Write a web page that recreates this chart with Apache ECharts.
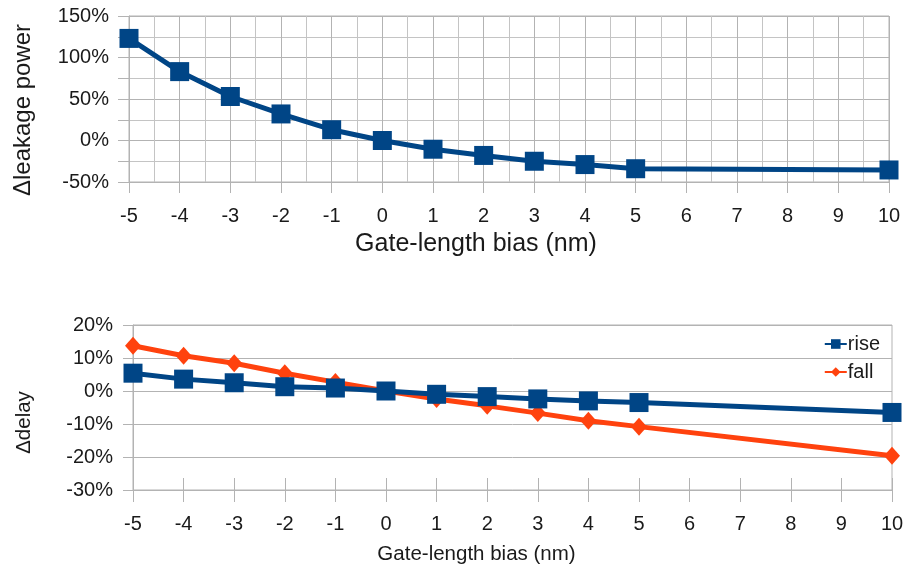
<!DOCTYPE html>
<html>
<head>
<meta charset="utf-8">
<script src="https://cdn.jsdelivr.net/npm/echarts@6/dist/echarts.min.js"></script>
<style>
  html, body { margin: 0; padding: 0; background: #fff; }
  #chart { width: 907px; height: 572px; }
</style>
</head>
<body>
<div id="chart"></div>
<script>
// gate-length bias (nm) where points were measured
const biasNm = [-5, -4, -3, -2, -1, 0, 1, 2, 3, 4, 5, 10]
// change in leakage power, %
const leakage = [123, 83, 53, 32, 13, 0, -10.5, -18, -25, -29, -34, -35.5]
// change in delay, %
const rise = [5.4, 3.6, 2.5, 1.3, 0.9, 0, -1, -1.7, -2.4, -3, -3.5, -6.5]
const fall = [13.7, 10.7, 8.4, 5.4, 2.7, 0, -2.4, -4.5, -6.7, -9, -10.8, -19.6]

const pairs = (ys) => biasNm.map((x, i) => [x, ys[i]])

const font = 'Liberation Sans'
const txt = '#1a1a1a'
const gridCol = '#b3b3b3'
const blue = '#004586'
const orange = '#ff420e'

const xBase = (gridIndex, nameSize, nameGap, shift) => ({
  type: 'value',
  gridIndex: gridIndex,
  min: -5,
  max: 10,
  interval: 1,
  name: 'Gate-length bias (nm)',
  nameLocation: 'middle',
  nameGap: nameGap,
  nameTextStyle: { fontFamily: font, fontSize: nameSize, color: txt, padding: [0, shift, 0, 0] },
  axisLine: { show: true, onZero: false, lineStyle: { color: gridCol } },
  axisTick: { show: true, length: 11, lineStyle: { color: gridCol } },
  axisLabel: { fontFamily: font, fontSize: 20, color: txt, margin: 24 }
})

const option = {
  backgroundColor: '#fff',
  animation: false,
  grid: [
    { left: 129, right: 18, top: 16, height: 166, show: true, borderColor: gridCol, borderWidth: 1 },
    { left: 133, right: 15, top: 325, height: 165, show: true, borderColor: gridCol, borderWidth: 1 }
  ],
  legend: {
    orient: 'vertical',
    right: 22,
    top: 329,
    itemWidth: 22,
    itemHeight: 12,
    itemGap: 8,
    data: ['rise', 'fall'],
    textStyle: { fontFamily: font, fontSize: 20, color: txt, padding: [0, 0, 0, -4] }
  },
  xAxis: [
    Object.assign(xBase(0, 25, 50, 66), {
      splitLine: { show: true, lineStyle: { color: gridCol } },
      minorTick: { show: false, splitNumber: 2 },
      minorSplitLine: { show: true, lineStyle: { color: '#c4c4c4' } }
    }),
    Object.assign(xBase(1, 20.5, 54, 72), {
      axisTick: { show: true, length: 12, lineStyle: { color: gridCol } },
      splitLine: { show: false }
    }),
    {
      // upper half of the crossing tick marks on the lower chart
      type: 'value',
      gridIndex: 1,
      min: -5,
      max: 10,
      interval: 1,
      position: 'top',
      offset: -165,
      axisLine: { show: false, onZero: false },
      axisTick: { show: true, length: 12, lineStyle: { color: gridCol } },
      axisLabel: { show: false },
      splitLine: { show: false }
    }
  ],
  yAxis: [
    {
      type: 'value',
      gridIndex: 0,
      min: -50,
      max: 150,
      interval: 50,
      name: 'Δleakage power',
      nameLocation: 'middle',
      nameGap: 94,
      nameTextStyle: { fontFamily: font, fontSize: 24, color: txt, padding: [0, 22, 0, 0] },
      axisLine: { show: true, onZero: false, lineStyle: { color: gridCol } },
      axisTick: { show: true, length: 11, lineStyle: { color: gridCol } },
      minorTick: { show: true, splitNumber: 2, length: 11, lineStyle: { color: gridCol } },
      axisLabel: { fontFamily: font, fontSize: 20, color: txt, margin: 20, formatter: '{value}%' },
      splitLine: { show: true, lineStyle: { color: gridCol } },
      minorSplitLine: { show: true, lineStyle: { color: '#c4c4c4' } }
    },
    {
      type: 'value',
      gridIndex: 1,
      min: -30,
      max: 20,
      interval: 10,
      name: 'Δdelay',
      nameLocation: 'middle',
      nameGap: 98,
      nameTextStyle: { fontFamily: font, fontSize: 20.5, color: txt, padding: [0, 30, 0, 0] },
      axisLine: { show: true, onZero: false, lineStyle: { color: gridCol } },
      axisTick: { show: true, length: 10, lineStyle: { color: gridCol } },
      axisLabel: { fontFamily: font, fontSize: 20, color: txt, margin: 20, formatter: '{value}%' },
      splitLine: { show: true, lineStyle: { color: gridCol } }
    }
  ],
  series: [
    {
      name: 'leakage',
      type: 'line',
      xAxisIndex: 0,
      yAxisIndex: 0,
      data: pairs(leakage),
      symbol: 'rect',
      symbolSize: 19,
      lineStyle: { color: blue, width: 5 },
      itemStyle: { color: blue }
    },
    {
      name: 'rise',
      type: 'line',
      xAxisIndex: 1,
      yAxisIndex: 1,
      data: pairs(rise),
      symbol: 'rect',
      symbolSize: 19,
      lineStyle: { color: blue, width: 5 },
      itemStyle: { color: blue },
      z: 3
    },
    {
      name: 'fall',
      type: 'line',
      xAxisIndex: 1,
      yAxisIndex: 1,
      data: pairs(fall),
      symbol: 'diamond',
      symbolSize: [16, 18],
      lineStyle: { color: orange, width: 5 },
      itemStyle: { color: orange },
      z: 2
    }
  ]
}

const chart = echarts.init(document.getElementById('chart'))
chart.setOption(option)
window.onresize = function () {
  chart.resize()
}
</script>
</body>
</html>
